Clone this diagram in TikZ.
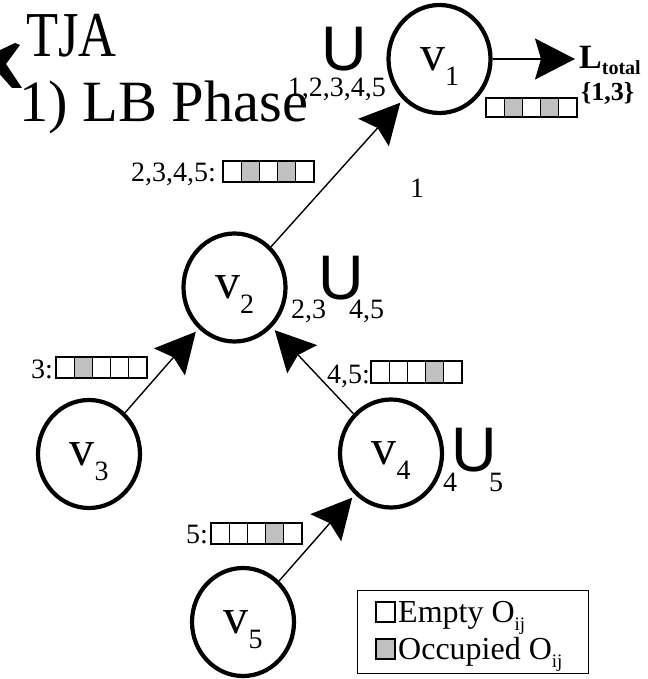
\documentclass[tikz,border=0pt]{standalone}
\usepackage{fontspec}
\setmainfont{Liberation Serif}
\newfontfamily\cupfont{Liberation Sans}
\usetikzlibrary{arrows.meta,shapes.geometric}
\definecolor{occ}{RGB}{192,192,192}
\tikzset{
  vert/.style={ellipse, draw, line width=4.2pt, minimum width=102pt, minimum height=108pt,
    inner sep=0pt, font=\fontsize{50}{50}\selectfont},
  edge/.style={line width=1.4pt, -{Stealth[length=40pt,width=41pt,inset=6pt]}, shorten >=4pt},
  cell/.style={draw, line width=1.2pt},
  lbl/.style={inner sep=0pt, font=\fontsize{28}{28}\selectfont},
  cupsym/.style={inner sep=0pt, font=\cupfont\fontsize{63}{63}\selectfont},
  legtxt/.style={inner sep=0pt, font=\fontsize{32}{32}\selectfont},
}
\newcommand{\vsub}[1]{v\smash{\raisebox{-15pt}{\fontsize{28}{28}\selectfont #1}}}
\newcommand{\ijsub}{\raisebox{-8pt}{\fontsize{19}{19}\selectfont ij}}
\newcommand{\cellrow}[4]{%
  \foreach \k in {#4}{\fill[occ] ({#1+(\k-1)*18.2},#2) rectangle ++(18.2,#3);}
  \foreach \k in {1,...,5}{\draw[cell] ({#1+(\k-1)*18.2},#2) rectangle ++(18.2,#3);}
}
\begin{document}
\begin{tikzpicture}[x=1pt,y=-1pt]
\useasboundingbox[fill=white] (0,0) rectangle (647,679);
% clipped glyph at left edge
\fill (-4,52) -- (15,43) -- (20,45) -- (6,64) -- (22,88) -- (12,88) -- (-4,70) -- cycle;
% titles
\node[inner sep=0pt, anchor=base west, font=\fontsize{64}{64}\selectfont] (tja) at (26,57) {\scalebox{0.82}[1]{TJA}};
\node[inner sep=0pt, anchor=base west, font=\fontsize{58.5}{58.5}\selectfont] (phase) at (19,122) {1) LB Phase};
% vertices
\node[vert] (v1) at (439.5,59) {\vsub{1}};
\node[vert] (v2) at (234.5,287.5) {\vsub{2}};
\node[vert] (v3) at (89,454) {\vsub{3}};
\node[vert] (v4) at (391,453.5) {\vsub{4}};
\node[vert] (v5) at (243,622) {\vsub{5}};
% L total
\node[inner sep=0pt, anchor=base west, font=\bfseries\fontsize{34}{34}\selectfont] (lt) at (579,69)
  {L\raisebox{-6pt}{\fontsize{20}{20}\selectfont total}};
\node[inner sep=0pt, anchor=base west, font=\bfseries\fontsize{26}{26}\selectfont] (lset) at (581,101) {\{1,3\}};
% edges
\draw[edge] (v2) -- (v1);
\draw[edge] (v3) -- (v2);
\draw[edge] (v4) -- (v2);
\draw[edge] (v5) -- (v4);
\draw[edge] (v1) -- (v1 -| lt.west);
% unions
\node[cupsym, anchor=base] (u1) at (344,71) {U};
\node[lbl, anchor=base east] (u1s) at (386,97) {1,2,3,4,5};
\node[cupsym, anchor=base] (u2) at (341,299) {U};
\node[lbl, anchor=base west] (u2a) at (291,318) {2,3};
\node[lbl, anchor=base west] (u2b) at (349,318) {4,5};
\node[cupsym, anchor=base] (u4) at (474,471) {U};
\node[lbl, anchor=base west] (u4a) at (443,491) {4};
\node[lbl, anchor=base west] (u4b) at (489,491) {5};
% edge labels
\node[lbl, anchor=base] (one) at (417,197) {1};
\node[lbl, anchor=base east] (l2345) at (216,182) {2,3,4,5:};
\cellrow{223}{161}{21}{2,4}
\cellrow{486}{98}{19}{2,4}
\node[lbl, anchor=base east] (l3) at (53,378) {3:};
\cellrow{56}{357}{21}{2}
\node[lbl, anchor=base east] (l45) at (370,383) {4,5:};
\cellrow{371}{361}{22}{4}
\node[lbl, anchor=base east] (l5) at (208,543) {5:};
\cellrow{211}{523}{21}{4}
% legend
\node[draw, line width=1.3pt, minimum width=231pt, minimum height=83pt, inner sep=0pt, anchor=north west] (legend) at (357,590) {};
\draw[cell] (376,602) rectangle (395,622);
\filldraw[cell, fill=occ] (376,639) rectangle (395,659);
\node[legtxt, anchor=base west] (lemp) at (398,622) {Empty O\ijsub};
\node[legtxt, anchor=base west] (locc) at (398,659) {Occupied O\ijsub};
\end{tikzpicture}
\end{document}
